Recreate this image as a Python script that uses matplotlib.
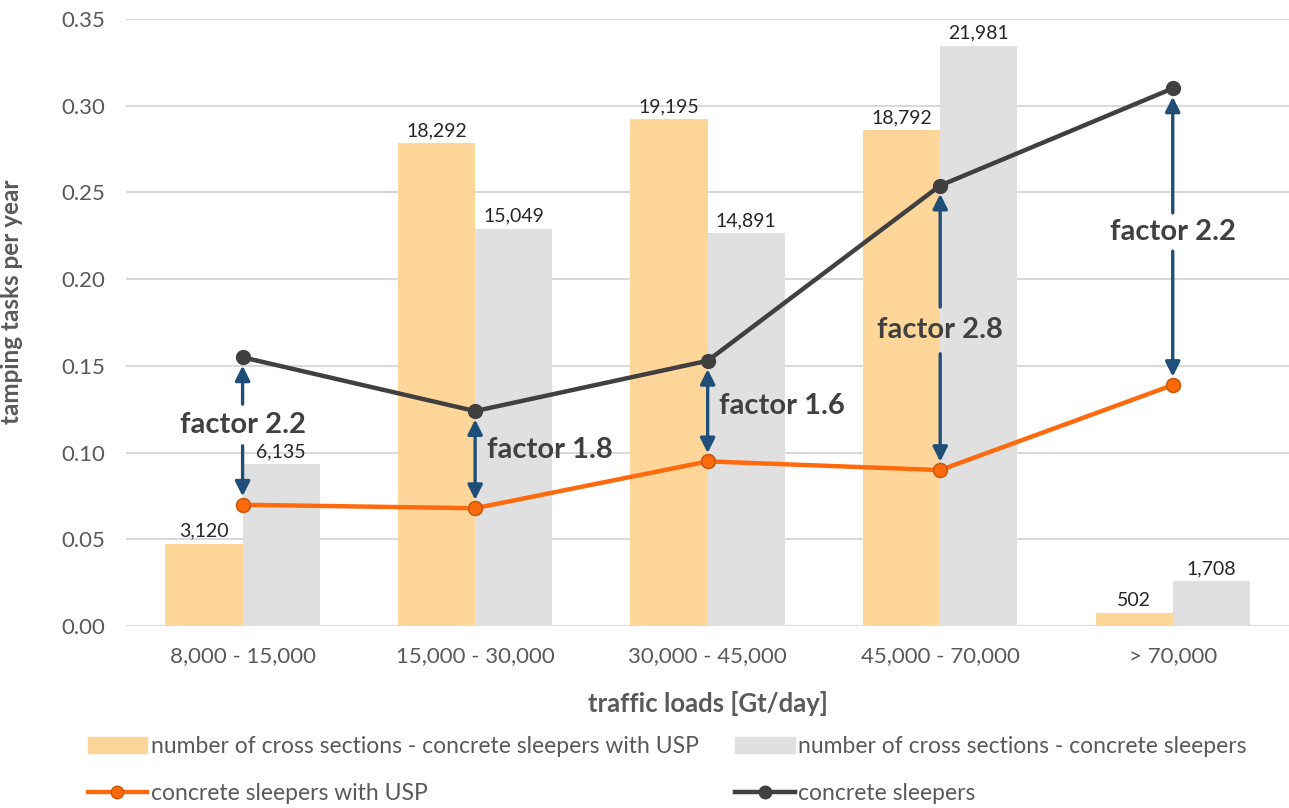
import numpy as np
import matplotlib
matplotlib.use("Agg")
import matplotlib.pyplot as plt
from matplotlib.lines import Line2D
from matplotlib.patches import Patch

plt.rcParams["font.family"] = ["Lato", "DejaVu Sans"]

# traffic load classes
categories = ["8,000 - 15,000", "15,000 - 30,000", "30,000 - 45,000",
              "45,000 - 70,000", "> 70,000"]
# number of cross sections per class
sections_usp = [3120, 18292, 19195, 18792, 502]
sections_plain = [6135, 15049, 14891, 21981, 1708]
# tamping tasks per year
tamping_usp = [0.070, 0.068, 0.095, 0.090, 0.139]
tamping_plain = [0.155, 0.124, 0.153, 0.254, 0.310]

C_BAR_USP = "#FFD699"
C_BAR_PLAIN = "#E0E0E0"
C_LINE_USP = "#FF6A0D"
C_LINE_PLAIN = "#404040"
C_ARROW = "#1F4E79"
C_TEXT = "#595959"

fig = plt.figure(figsize=(12.89, 8.08), dpi=100)
ax = fig.add_axes([0.098, 0.225, 0.902, 0.7515])
ax2 = ax.twinx()

x = np.arange(len(categories))
w = 0.332

# bars on a hidden secondary scale
b1 = ax2.bar(x - w / 2, sections_usp, w, color=C_BAR_USP, zorder=1)
b2 = ax2.bar(x + w / 2, sections_plain, w, color=C_BAR_PLAIN, zorder=1)
ax2.set_ylim(0, 23000)
ax2.set_yticks([])
for bars in (b1, b2):
    for r in bars:
        ax2.annotate(f"{int(r.get_height()):,}",
                     (r.get_x() + r.get_width() / 2, r.get_height()),
                     xytext=(0, 3), textcoords="offset points",
                     ha="center", va="bottom", fontsize=14, color="#262626")

# lines on the front axis
ax.set_zorder(ax2.get_zorder() + 1)
ax.patch.set_visible(False)
ax.plot(x, tamping_usp, color=C_LINE_USP, lw=3.2, marker="o", ms=10,
        mfc=C_LINE_USP, mec="#C55A11", mew=1.2, zorder=4)
ax.plot(x, tamping_plain, color=C_LINE_PLAIN, lw=3.2, marker="o", ms=10,
        mfc=C_LINE_PLAIN, mec=C_LINE_PLAIN, zorder=4)

ticks = np.arange(0, 0.351, 0.05)
ax.set_ylim(0, 0.35)
ax.set_xlim(-0.5, 4.5)
ax.set_yticks(ticks)
ax.set_yticklabels([f"{v:.2f}" for v in ticks])
ax.set_xticks(x)
ax.set_xticklabels(categories)
ax.tick_params(axis="x", length=0, labelsize=16, colors=C_TEXT, pad=14)
ax.tick_params(axis="y", length=0, labelsize=16, colors=C_TEXT, pad=15)
for a in (ax, ax2):
    for s in a.spines.values():
        s.set_visible(False)
# gridlines behind the bars
for v in ticks:
    ax2.axhline(v / 0.35 * 23000, color="#D9D9D9", lw=1.5, zorder=0)

ax.set_ylabel("tamping tasks per year", fontsize=17.5, fontweight="bold",
              color=C_TEXT)
ax.yaxis.set_label_coords(-0.0886, 0.535)
ax.set_xlabel("traffic loads [Gt/day]", fontsize=18.5, fontweight="bold",
              color=C_TEXT, labelpad=18)

# factor annotations: label height and gap cut into the arrow
label_y = [0.116, 0.1015, 0.127, 0.1705, 0.2272]
gap = [0.012, None, None, 0.0135, 0.011]
arrow_kw = dict(arrowstyle="-|>", color=C_ARROW, lw=2.4, mutation_scale=22,
                shrinkA=0, shrinkB=6)


def arrow(x0, y_from, y_to):
    ax.annotate("", xy=(x0, y_to), xytext=(x0, y_from), arrowprops=arrow_kw,
                zorder=3)


for i in range(len(categories)):
    lo, hi = tamping_usp[i], tamping_plain[i]
    txt = f"factor {hi / lo:.1f}"
    if gap[i] is None:
        ax.annotate("", xy=(i, hi), xytext=(i, lo),
                    arrowprops=dict(arrowstyle="<|-|>", color=C_ARROW, lw=2.4,
                                    mutation_scale=22, shrinkA=6, shrinkB=6),
                    zorder=3)
        ax.text(i + 0.05, label_y[i], txt, ha="left", va="center",
                fontsize=21, fontweight="bold", color="#404040", zorder=5)
    else:
        arrow(i, label_y[i] + gap[i], hi)
        arrow(i, label_y[i] - gap[i], lo)
        ax.text(i, label_y[i], txt, ha="center", va="center",
                fontsize=21, fontweight="bold", color="#404040", zorder=5)

handles = [
    Patch(color=C_BAR_USP, label="number of cross sections - concrete sleepers with USP"),
    Line2D([], [], color=C_LINE_USP, lw=3.2, marker="o", ms=9, mfc=C_LINE_USP,
           mec="#C55A11", label="concrete sleepers with USP"),
    Patch(color=C_BAR_PLAIN, label="number of cross sections - concrete sleepers"),
    Line2D([], [], color=C_LINE_PLAIN, lw=3.2, marker="o", ms=9,
           label="concrete sleepers"),
]
leg = fig.legend(handles=handles, ncol=2, loc="lower left",
                 bbox_to_anchor=(0.052, -0.02), frameon=False, fontsize=16.5,
                 handlelength=2.6, handletextpad=0.15, columnspacing=1.6,
                 labelspacing=1.1, labelcolor=C_TEXT)

fig.savefig("out.png", dpi=100)
